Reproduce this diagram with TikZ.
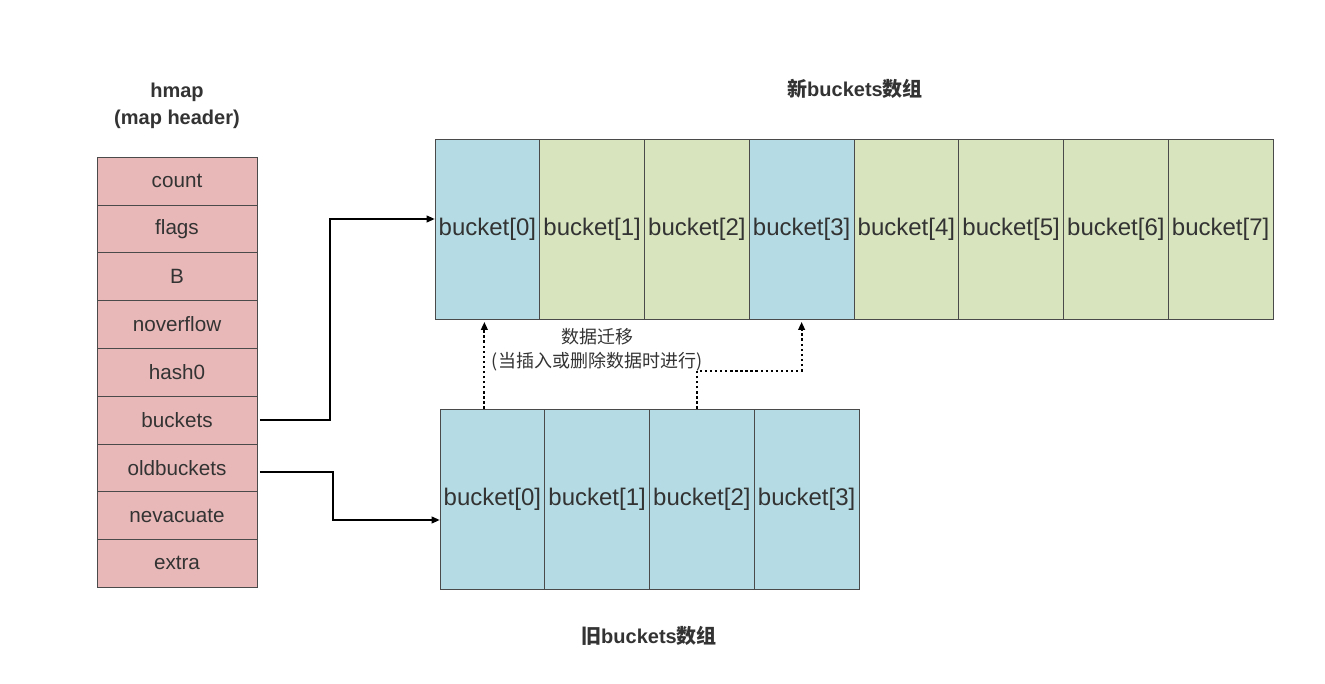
\documentclass[tikz,border=0pt]{standalone}
\usepackage{fontspec}
\setmainfont{Liberation Sans}
\newfontfamily\cjk{Noto Sans CJK SC}
\usetikzlibrary{arrows.meta}
\definecolor{hmapred}{HTML}{E8B8B8}
\definecolor{bktblue}{HTML}{B5DCE4}
\definecolor{bktgreen}{HTML}{D7E4BD}
\definecolor{txtgray}{HTML}{333333}
\definecolor{edgegray}{HTML}{4A4A4A}

\begin{document}
\begin{tikzpicture}[x=0.75pt,y=-0.75pt,
  field/.style={draw=edgegray,fill=hmapred,minimum width=120pt,minimum height=35.85pt,inner sep=0pt,font=\fontsize{15.5}{18}\selectfont,text=txtgray},
  cell/.style={draw=edgegray,minimum width=78.56pt,minimum height=135pt,inner sep=0pt,font=\fontsize{18}{20}\selectfont,text=txtgray},
  title/.style={font=\fontsize{15}{20}\selectfont\bfseries,text=txtgray,align=center},
  ptr/.style={line width=1.2pt,-{Triangle[length=6pt,width=5pt]}},
  migrate/.style={line width=1.4pt,dash pattern=on 1.8pt off 2pt,-{Triangle[length=6pt,width=5pt]}}]
  \fill[white] (0,0) rectangle (1325,684);
  \useasboundingbox (0,0) rectangle (1325,684);
  \node[title] (hmap-title) at (177,106) {hmap\\(map header)};
  \foreach \f [count=\i] in {count,flags,B,noverflow,hash0,buckets,oldbuckets,nevacuate,extra}
    \node[field] (hm-\f) at (177,{157+47.8*(\i-0.5)}) {\f};
  \node[title] (new-title) at (855,89) {{\cjk 新}buckets{\cjk 数组}};
  \foreach \c [count=\i from 0] in {bktblue,bktgreen,bktgreen,bktblue,bktgreen,bktgreen,bktgreen,bktgreen}
    \node[cell,fill=\c] (nb\i) at ({435+104.75*(\i+0.5)},229) {bucket[\i]};
  \foreach \i in {0,...,3}
    \node[cell,fill=bktblue] (ob\i) at ({440+104.75*(\i+0.5)},499) {bucket[\i]};
  \node[title] (old-title) at (649,636) {{\cjk 旧}buckets{\cjk 数组}};
  \node[font=\cjk\fontsize{13.5}{18}\selectfont,text=txtgray,align=center] (move-label) at (597,350) {数据迁移\\(当插入或删除数据时进行)};
  \draw[ptr] ([xshift=2pt]hm-buckets.east) -- ++(70,0) |- ([yshift=7.5pt]nb0.west);
  \draw[ptr] ([xshift=2pt,yshift=-3pt]hm-oldbuckets.east) -- ++(73,0) |- ([yshift=-15.75pt]ob0.west);
  \draw[migrate,shorten >=2pt] ([xshift=-6pt]ob0.north) -- ([xshift=-6pt]ob0.north |- nb0.south);
  \draw[migrate,shorten >=2pt] ([xshift=-3.5pt]ob2.north) -- ++(0,-38) -| (nb3.south);
\end{tikzpicture}
\end{document}
